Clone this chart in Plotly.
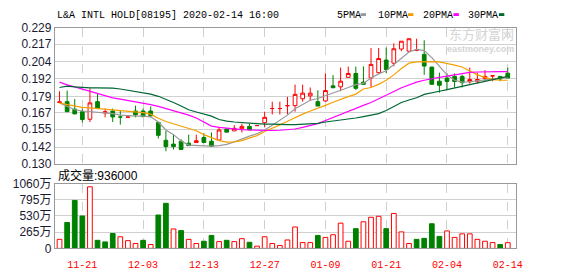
import plotly.graph_objects as go

# ---------------- data ----------------
dates = ["11-18", "11-19", "11-20", "11-21", "11-22", "11-25", "11-26", "11-27", "11-28", "11-29",
         "12-02", "12-03", "12-04", "12-05", "12-06", "12-09", "12-10", "12-11", "12-12", "12-13",
         "12-16", "12-17", "12-18", "12-19", "12-20", "12-23", "12-24", "12-27", "12-30", "12-31",
         "01-02", "01-03", "01-06", "01-07", "01-08", "01-09", "01-10", "01-13", "01-14", "01-15",
         "01-16", "01-17", "01-20", "01-21", "01-22", "01-23", "01-24", "01-29", "01-30", "01-31",
         "02-03", "02-04", "02-05", "02-06", "02-07", "02-10", "02-11", "02-12", "02-13", "02-14"]

opens = [0.1745, 0.1751, 0.1696, 0.1678, 0.1623, 0.1751, 0.1669, 0.1683, 0.1639, 0.1639,
         0.1683, 0.1683, 0.1683, 0.1600, 0.1470, 0.1442, 0.1463, 0.1449, 0.1454, 0.1490,
         0.1463, 0.1472, 0.1552, 0.1538, 0.1554, 0.1571, 0.1577, 0.1598, 0.1701, 0.1701,
         0.1722, 0.1722, 0.1772, 0.1793, 0.1751, 0.1756, 0.1866, 0.1859, 0.1928, 0.1956,
         0.1893, 0.1923, 0.1962, 0.2054, 0.2031, 0.2134, 0.2118, 0.2125, 0.2095, 0.2003,
         0.1900, 0.1923, 0.1935, 0.1935, 0.1896, 0.1900, 0.1921, 0.1939, 0.1935, 0.1958]
highs = [0.1827, 0.1832, 0.1770, 0.1701, 0.1848, 0.1809, 0.1701, 0.1701, 0.1683, 0.1653,
         0.1722, 0.1701, 0.1717, 0.1600, 0.1538, 0.1511, 0.1477, 0.1511, 0.1511, 0.1522,
         0.1527, 0.1568, 0.1552, 0.1580, 0.1591, 0.1591, 0.1577, 0.1678, 0.1751, 0.1751,
         0.1786, 0.1875, 0.1875, 0.1854, 0.1834, 0.1957, 0.1944, 0.1999, 0.2006, 0.2006,
         0.2008, 0.2141, 0.2141, 0.2145, 0.2175, 0.2191, 0.2209, 0.2209, 0.2198, 0.2003,
         0.1962, 0.1957, 0.1957, 0.1946, 0.1999, 0.1962, 0.1980, 0.1939, 0.1935, 0.1999]
lows = [0.1743, 0.1678, 0.1660, 0.1600, 0.1603, 0.1701, 0.1637, 0.1603, 0.1584, 0.1635,
        0.1637, 0.1637, 0.1637, 0.1483, 0.1390, 0.1403, 0.1403, 0.1431, 0.1454, 0.1449,
        0.1422, 0.1472, 0.1529, 0.1538, 0.1527, 0.1545, 0.1577, 0.1564, 0.1658, 0.1658,
        0.1658, 0.1678, 0.1751, 0.1756, 0.1719, 0.1751, 0.1852, 0.1827, 0.1928, 0.1836,
        0.1877, 0.1854, 0.1957, 0.1957, 0.2008, 0.2118, 0.2113, 0.2118, 0.1946, 0.1877,
        0.1816, 0.1843, 0.1854, 0.1854, 0.1882, 0.1884, 0.1900, 0.1900, 0.1900, 0.1923]
closes = [0.1749, 0.1678, 0.1662, 0.1621, 0.1742, 0.1701, 0.1678, 0.1640, 0.1639, 0.1639,
          0.1655, 0.1642, 0.1648, 0.1506, 0.1424, 0.1424, 0.1403, 0.1431, 0.1467, 0.1454,
          0.1426, 0.1545, 0.1529, 0.1557, 0.1571, 0.1545, 0.1577, 0.1637, 0.1701, 0.1701,
          0.1722, 0.1804, 0.1813, 0.1813, 0.1719, 0.1832, 0.1852, 0.1900, 0.1956, 0.1848,
          0.1877, 0.2022, 0.2065, 0.1985, 0.2136, 0.2191, 0.2209, 0.2125, 0.2010, 0.1877,
          0.1870, 0.1898, 0.1898, 0.1889, 0.1912, 0.1912, 0.1935, 0.1939, 0.1916, 0.1923]
# 1 = rising (red, hollow), 0 = falling (green, filled) as drawn on the chart
candle_up = [1, 0, 0, 0, 1, 0, 1, 0, 0, 1,
             0, 0, 0, 0, 0, 0, 0, 0, 1, 0,
             0, 1, 0, 1, 1, 0, 1, 1, 1, 1,
             1, 1, 1, 1, 0, 1, 0, 1, 1, 0,
             0, 1, 1, 0, 1, 1, 1, 1, 0, 0,
             0, 0, 0, 0, 1, 1, 1, 1, 0, 0]

ma5 = [0.1742, 0.1717, 0.1692, 0.1683, 0.1678, 0.1676, 0.1671, 0.1664, 0.1653, 0.1648,
       0.1646, 0.1646, 0.1641, 0.1603, 0.1545, 0.1511, 0.1465, 0.1435, 0.1431, 0.1428,
       0.1428, 0.1431, 0.1440, 0.1458, 0.1481, 0.1500, 0.1518, 0.1545, 0.1580, 0.1619,
       0.1653, 0.1699, 0.1733, 0.1761, 0.1774, 0.1793, 0.1813, 0.1836, 0.1854, 0.1875,
       0.1884, 0.1923, 0.1953, 0.1976, 0.2022, 0.2072, 0.2113, 0.2132, 0.2122, 0.2072,
       0.2008, 0.1946, 0.1907, 0.1893, 0.1896, 0.1900, 0.1909, 0.1916, 0.1919, 0.1925]
ma10 = [0.1740, 0.1729, 0.1717, 0.1710, 0.1706, 0.1701, 0.1694, 0.1687, 0.1683, 0.1678,
        0.1674, 0.1671, 0.1660, 0.1630, 0.1607, 0.1591, 0.1573, 0.1557, 0.1539, 0.1511,
        0.1486, 0.1467, 0.1456, 0.1458, 0.1467, 0.1483, 0.1504, 0.1534, 0.1557, 0.1582,
        0.1609, 0.1637, 0.1660, 0.1683, 0.1701, 0.1724, 0.1747, 0.1770, 0.1788, 0.1806,
        0.1843, 0.1854, 0.1877, 0.1907, 0.1946, 0.1992, 0.2031, 0.2040, 0.2042, 0.2042,
        0.2040, 0.2031, 0.2017, 0.2003, 0.1976, 0.1946, 0.1928, 0.1912, 0.1907, 0.1907]
ma20 = [0.1893, 0.1873, 0.1859, 0.1843, 0.1832, 0.1816, 0.1797, 0.1779, 0.1770, 0.1761,
        0.1751, 0.1742, 0.1729, 0.1717, 0.1701, 0.1687, 0.1671, 0.1653, 0.1632, 0.1603,
        0.1573, 0.1564, 0.1557, 0.1552, 0.1548, 0.1545, 0.1543, 0.1541, 0.1541, 0.1543,
        0.1545, 0.1552, 0.1564, 0.1577, 0.1591, 0.1614, 0.1637, 0.1660, 0.1680, 0.1701,
        0.1724, 0.1745, 0.1770, 0.1797, 0.1825, 0.1852, 0.1875, 0.1893, 0.1907, 0.1919,
        0.1928, 0.1937, 0.1946, 0.1955, 0.1964, 0.1967, 0.1969, 0.1969, 0.1969, 0.1969]
ma30 = [0.1854, 0.1864, 0.1859, 0.1854, 0.1852, 0.1852, 0.1852, 0.1850, 0.1843, 0.1834,
        0.1827, 0.1820, 0.1806, 0.1790, 0.1770, 0.1745, 0.1719, 0.1692, 0.1676, 0.1660,
        0.1646, 0.1621, 0.1609, 0.1603, 0.1598, 0.1593, 0.1591, 0.1587, 0.1587, 0.1584,
        0.1584, 0.1584, 0.1587, 0.1589, 0.1593, 0.1603, 0.1609, 0.1616, 0.1623, 0.1632,
        0.1642, 0.1651, 0.1664, 0.1687, 0.1717, 0.1745, 0.1763, 0.1779, 0.1804, 0.1818,
        0.1827, 0.1838, 0.1850, 0.1861, 0.1873, 0.1884, 0.1898, 0.1909, 0.1923, 0.1935]

# volume in 万 (10,000 shares)
volumes = [148, 424, 784, 530, 1007, 132, 106, 244, 190, 127,
           80, 132, 64, 546, 737, 318, 291, 148, 80, 117,
           212, 111, 132, 111, 159, 100, 37, 190, 80, 48,
           138, 350, 95, 95, 212, 180, 223, 413, 117, 323,
           435, 509, 525, 323, 572, 270, 80, 148, 164, 403,
           196, 286, 180, 238, 238, 148, 117, 95, 64, 93.6]
volume_up = [1, 0, 0, 0, 1, 0, 0, 0, 1, 1,
             1, 0, 1, 0, 0, 1, 0, 1, 1, 0,
             0, 1, 0, 1, 1, 0, 1, 1, 1, 1,
             1, 1, 1, 1, 0, 1, 1, 1, 1, 0,
             1, 1, 1, 0, 1, 1, 1, 0, 0, 0,
             0, 1, 1, 1, 1, 1, 1, 1, 0, 1]

price_ticks = [0.130, 0.142, 0.155, 0.167, 0.179, 0.192, 0.204, 0.217, 0.229]
price_tick_labels = ["0.130", "0.142", "0.155", "0.167", "0.179", "0.192", "0.204", "0.217", "0.229"]
vol_ticks = [0, 265, 530, 795, 1060]
vol_tick_labels = ["0", "265万", "530万", "795万", "1060万"]
date_ticks = ["11-21", "12-03", "12-13", "12-27", "01-09", "01-21", "02-04", "02-14"]

title_text = "L&A INTL HOLD[08195] 2020-02-14 16:00"
volume_text = "成交量:936000"
ma_names = ["5PMA", "10PMA", "20PMA", "30PMA"]

# ---------------- style ----------------
W, H = 578, 276
RED = "#ff0000"
GREEN = "#008000"
MA_COLORS = ["#999999", "#f5a000", "#ff00ff", "#006633"]
FRAME = "#999999"
GRID = "#d0d0d0"
MONO = "Liberation Mono, DejaVu Sans Mono, monospace"
SANS = "Liberation Sans, Arial, Noto Sans CJK SC, sans-serif"

def px_x(p):
    return p / W

def px_y(p):
    return 1 - p / H

fig = go.Figure()

def sel(arr, flags, val):
    return [a for a, f in zip(arr, flags) if f == val]

for flag, line_c, fill_c in [(1, RED, "#ffffff"), (0, GREEN, GREEN)]:
    style = dict(line=dict(color=line_c, width=1), fillcolor=fill_c)
    fig.add_trace(go.Candlestick(
        x=sel(dates, candle_up, flag),
        open=sel(opens, candle_up, flag), high=sel(highs, candle_up, flag),
        low=sel(lows, candle_up, flag), close=sel(closes, candle_up, flag),
        increasing=style, decreasing=style, whiskerwidth=0,
        xaxis="x", yaxis="y", showlegend=False, hoverinfo="skip"))

for vals, col in zip([ma5, ma10, ma20, ma30], MA_COLORS):
    fig.add_trace(go.Scatter(x=dates, y=vals, mode="lines",
                             line=dict(color=col, width=1.2),
                             xaxis="x", yaxis="y", showlegend=False, hoverinfo="skip"))

fig.add_trace(go.Bar(
    x=dates, y=volumes, width=0.62,
    marker=dict(color=["#ffffff" if u else GREEN for u in volume_up],
                line=dict(color=[RED if u else GREEN for u in volume_up], width=1)),
    xaxis="x2", yaxis="y2", showlegend=False, hoverinfo="skip"))

xr = [-0.62, 60.04]
xdom = [px_x(55.5), px_x(522)]
common_x = dict(type="category", categoryorder="array", categoryarray=dates,
                range=xr, domain=xdom, tickmode="array", tickvals=date_ticks,
                showgrid=True, gridcolor=GRID, griddash="dash", gridwidth=1,
                showline=True, linecolor=FRAME, linewidth=1, mirror=True,
                zeroline=False, fixedrange=True)

fig.update_layout(
    width=W, height=H, margin=dict(l=0, r=0, t=0, b=0), autosize=False,
    paper_bgcolor="white", plot_bgcolor="white",
    boxgap=0.3,
    xaxis=dict(common_x, anchor="y", showticklabels=False, ticks="",
               rangeslider=dict(visible=False)),
    xaxis2=dict(common_x, anchor="y2", showticklabels=True, ticks="",
                ticklabelstandoff=7,
                tickfont=dict(family=MONO, size=10, color=RED)),
    yaxis=dict(domain=[px_y(165), px_y(21.7)], range=[0.130, 0.229],
               tickmode="array", tickvals=price_ticks, ticktext=price_tick_labels,
               showgrid=True, gridcolor=GRID, gridwidth=1,
               showline=True, linecolor=FRAME, mirror=True, zeroline=False,
               ticks="", tickfont=dict(family=SANS, size=12, color="#1a1a33")),
    yaxis2=dict(domain=[px_y(254.3), px_y(186)], range=[0, 1060],
                tickmode="array", tickvals=vol_ticks, ticktext=vol_tick_labels,
                showgrid=True, gridcolor=GRID, gridwidth=1,
                showline=True, linecolor=FRAME, mirror=True, zeroline=False,
                ticks="", tickfont=dict(family=SANS, size=12, color="#1a1a33")),
)

annotations = [
    dict(text=title_text, x=px_x(56), y=px_y(9), xanchor="left", yanchor="middle",
         font=dict(family=MONO, size=10, color="#000000")),
    dict(text=volume_text, x=px_x(57), y=px_y(177), xanchor="left", yanchor="middle",
         font=dict(family=SANS, size=12, color="#000000")),
    dict(text="东方财富网", x=px_x(522), y=px_y(28), xanchor="right", yanchor="middle",
         font=dict(family="Noto Sans CJK SC", size=13, color="#d4d4d4")),
    dict(text="<b>eastmoney.com</b>", x=px_x(522), y=px_y(44), xanchor="right", yanchor="middle",
         font=dict(family=SANS, size=9, color="#d4d4d4")),
]
legend_text_x = [339, 381, 426, 472]
legend_box_x = [365, 413, 459, 505]
shapes = []
for name, col, tx, bx in zip(ma_names, MA_COLORS, legend_text_x, legend_box_x):
    annotations.append(dict(text=name, x=px_x(tx), y=px_y(9), xanchor="left", yanchor="middle",
                            font=dict(family=MONO, size=10, color="#000000")))
    shapes.append(dict(type="rect", xref="paper", yref="paper",
                       x0=px_x(bx), x1=px_x(bx + 5.5), y0=px_y(9.5), y1=px_y(6.5),
                       fillcolor=col, line=dict(width=0)))
for a in annotations:
    a.update(xref="paper", yref="paper", showarrow=False)
fig.update_layout(annotations=annotations, shapes=shapes)

fig.write_html("out.html")
